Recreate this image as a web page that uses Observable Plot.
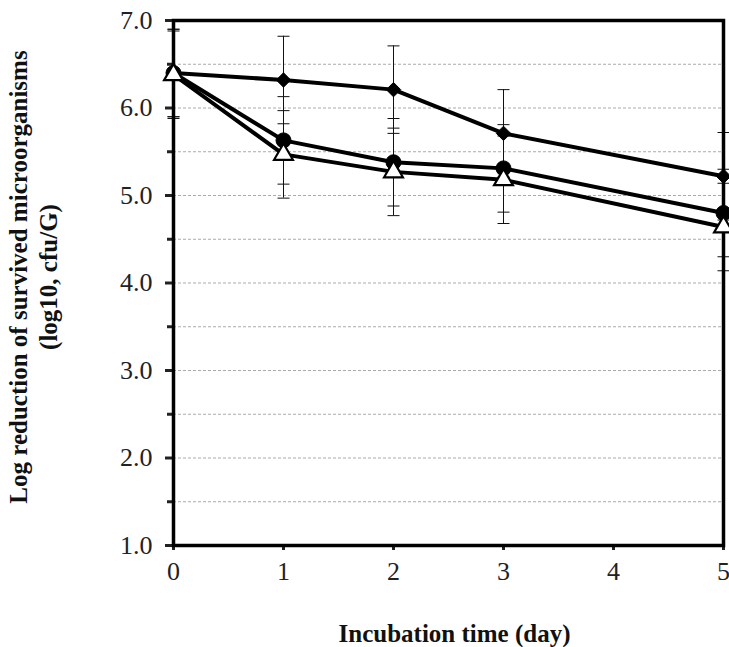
<!DOCTYPE html>
<html>
<head>
<meta charset="utf-8">
<script src="https://cdn.jsdelivr.net/npm/d3@7"></script>
<script src="https://cdn.jsdelivr.net/npm/@observablehq/plot@0.6"></script>
<style>
  html, body { margin: 0; padding: 0; background: #fff; }
  #chart svg { display: block; }
</style>
</head>
<body>
<div id="chart"></div>
<script>
// Incubation days sampled
const days = [0, 1, 2, 3, 5];

// Mean log10 counts for the three treatments
const diamondSeries  = [6.40, 6.32, 6.21, 5.71, 5.22];
const circleSeries   = [6.40, 5.63, 5.38, 5.31, 4.80];
const triangleSeries = [6.38, 5.47, 5.27, 5.18, 4.64];

// Standard deviations (error bars)
const diamondErr  = [0.50, 0.50, 0.50, 0.50, 0.50];
const circleErr   = [0.50, 0.50, 0.50, 0.50, 0.50];
const triangleErr = [0.50, 0.50, 0.50, 0.50, 0.50];

// Axis ticks
const xTicks = [0, 1, 2, 3, 4, 5];
const yMajor = [1, 2, 3, 4, 5, 6, 7];
const yMinor = [1.5, 2.5, 3.5, 4.5, 5.5, 6.5];
const gridLines = [1.5, 2, 2.5, 3, 3.5, 4, 4.5, 5, 5.5, 6, 6.5];

const xTitle = "Incubation time (day)";
const yTitle = "Log reduction of survived microorganisms\n(log10, cfu/G)";

function rows(values, errs, series) {
  return days.map((d, i) => ({day: d, value: values[i], err: errs[i], series}));
}
const dia = rows(diamondSeries, diamondErr, "diamond");
const cir = rows(circleSeries, circleErr, "circle");
const tri = rows(triangleSeries, triangleErr, "triangle");
const all = [...dia, ...cir, ...tri];

// horizontal stroke used as an error-bar cap
const capSymbol = {
  draw(context, size) {
    const w = Math.sqrt(size / Math.PI);
    context.moveTo(-w, 0);
    context.lineTo(w, 0);
  }
};

const serif = "'Liberation Serif', 'Times New Roman', serif";
const noLabel = () => "";

const chart = Plot.plot({
  width: 729,
  height: 647,
  marginLeft: 173,
  marginRight: 6,
  marginTop: 20,
  marginBottom: 102,
  style: {fontFamily: serif, fontSize: "26px", color: "#222", background: "#fff"},
  x: {domain: [0, 5]},
  y: {domain: [1, 7]},
  marks: [
    Plot.ruleY(gridLines, {stroke: "#aaa", strokeWidth: 1, strokeDasharray: "3,2"}),
    // error bars
    Plot.ruleX(all, {x: "day", y1: d => d.value - d.err, y2: d => d.value + d.err, stroke: "#111", strokeWidth: 1}),
    Plot.dot(all, {x: "day", y: d => d.value + d.err, symbol: capSymbol, r: 6, stroke: "#111", strokeWidth: 1, fill: "none"}),
    Plot.dot(all, {x: "day", y: d => d.value - d.err, symbol: capSymbol, r: 6, stroke: "#111", strokeWidth: 1, fill: "none"}),
    // axis ticks
    Plot.axisY(yMajor, {tickSize: 8, strokeWidth: 3, tickFormat: noLabel, label: null}),
    Plot.axisY(yMinor, {tickSize: 6, strokeWidth: 3, tickFormat: noLabel, label: null}),
    Plot.axisX(xTicks, {tickSize: 5, strokeWidth: 3, tickFormat: noLabel, label: null}),
    // tick labels
    Plot.text(yMajor, {y: d => d, text: d => d.toFixed(1), frameAnchor: "left", textAnchor: "end", lineAnchor: "middle", dx: -21, fontSize: 26, fill: "#222"}),
    Plot.text(xTicks, {x: d => d, text: d => String(d), frameAnchor: "bottom", textAnchor: "middle", lineAnchor: "top", dy: 16, fontSize: 26, fill: "#222"}),
    Plot.frame({stroke: "#000", strokeWidth: 3.5}),
    // series lines
    Plot.line(dia, {x: "day", y: "value", stroke: "#000", strokeWidth: 4}),
    Plot.line(cir, {x: "day", y: "value", stroke: "#000", strokeWidth: 4}),
    Plot.line(tri, {x: "day", y: "value", stroke: "#000", strokeWidth: 4}),
    // markers
    Plot.dot(dia, {x: "day", y: "value", symbol: "diamond2", r: 6.5, fill: "#000", stroke: "#000", strokeWidth: 1}),
    Plot.dot(cir, {x: "day", y: "value", symbol: "circle", r: 7.5, fill: "#000", stroke: "#000", strokeWidth: 1}),
    Plot.dot(tri, {x: "day", y: "value", symbol: "triangle", r: 7, fill: "#fff", stroke: "#000", strokeWidth: 2.2}),
    // axis titles
    Plot.text([xTitle], {frameAnchor: "bottom", textAnchor: "middle", lineAnchor: "middle", dx: 6, dy: 88, fontWeight: "bold", fontSize: 25, fill: "#111"}),
    Plot.text([yTitle], {frameAnchor: "left", textAnchor: "middle", lineAnchor: "middle", dx: -141, dy: -6, rotate: -90, fontWeight: "bold", fontSize: 25, lineHeight: 1.2, fill: "#111"})
  ]
});

document.getElementById("chart").appendChild(chart);
</script>
</body>
</html>
